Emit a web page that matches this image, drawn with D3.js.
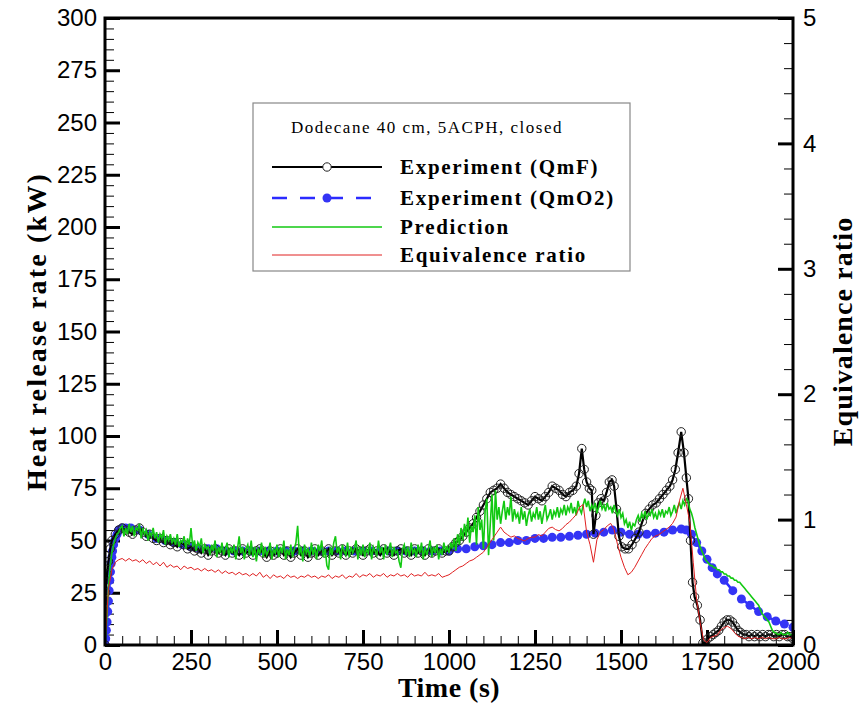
<!DOCTYPE html>
<html><head><meta charset="utf-8">
<script src="https://cdn.jsdelivr.net/npm/d3@7"></script>
<style>body{margin:0;background:#fff}svg{display:block}</style>
</head><body>
<svg id="chart" width="861" height="704"></svg>
<script>
// ---------- axis ticks ----------
const timeTicks = [0,250,500,750,1000,1250,1500,1750,2000];
const hrrTicks = [0,25,50,75,100,125,150,175,200,225,250,275,300];
const phiTicks = [0,1,2,3,4,5];

// ---------- series ----------
const legendTitle = "Dodecane 40 cm, 5ACPH, closed";
const seriesNames = ["Experiment (QmF)","Experiment (QmO2)","Prediction","Equivalence ratio"];

// Experiment (QmF): [time s, kW]
const qmf = [[0,0],[2,25],[6,34],[10,40],[15,46],[20,50],[30,53],[40,55],[50,56],[60,55],[70,54],[80,53],[90,55],[100,56],[110,54],[120,52],[130,53],[140,51],[150,50],[160,51],[170,49],[180,50],[190,48],[200,49],[210,47],[220,49],[230,48],[240,46],[250,47],
[260,45],[270,46],[280,44],[290,46],[300,43],[310,45],[320,46],[330,44],[340,45],[350,43],[360,46],[370,44],[380,45],[390,43],[400,46],[410,44],[420,45],[430,43],[440,45],[450,46],[460,44],[470,42],[480,45],[490,43],[500,44],[510,46],[520,43],[530,45],[540,42],[550,44],[560,46],[570,43],[580,45],[590,42],[600,44],[610,46],[620,43],[630,45],[640,44],[650,46],[660,43],[670,45],[680,44],[690,46],[700,43],[710,45],[720,44],[730,46],[740,45],[750,43],[760,45],[770,46],[780,44],[790,45],[800,43],[810,46],[820,44],[830,45],[840,43],[850,45],[860,46],[870,44],[880,45],[890,43],[900,46],[910,44],[920,45],[930,43],[940,46],[950,44],[960,45],[970,46],[980,44],[990,45],
[1000,45],[1010,47],[1020,49],[1030,50],[1040,52],[1050,54],[1060,56],[1070,58],[1080,61],[1090,64],[1100,67],[1110,70],[1120,73],[1130,74],[1140,75],[1150,77],[1160,75],[1170,73],[1180,72],[1190,71],[1200,70],[1210,69],[1220,68],[1230,67],[1240,69],[1250,71],[1260,70],[1270,69],[1280,71],[1290,73],[1300,76],[1310,75],[1320,74],[1330,72],[1340,71],[1350,73],[1360,74],[1370,76],[1378,82],[1386,94],[1393,84],[1400,78],[1408,75],[1415,74],[1420,53],[1427,62],[1434,68],[1442,70],[1450,69],[1458,73],[1466,78],[1474,79],[1480,76],[1487,65],[1494,52],[1502,47],[1512,46],[1522,46],[1532,48],[1542,51],[1552,54],[1562,59],[1572,63],[1582,65],[1592,67],[1602,68],[1612,70],[1622,72],[1632,74],[1642,76],[1650,79],[1658,84],[1666,92],[1675,102],[1683,92],[1690,80],[1696,70],[1702,50],[1708,30],[1714,23],[1722,19],[1730,12],[1738,1],
[1745,1],[1752,3],[1760,4],[1768,5],[1776,6],[1784,7],[1792,9],[1800,11],[1808,12],[1816,12],[1824,11],[1832,9],[1840,7],[1848,6],[1856,5],[1864,5],[1872,4],[1880,5],[1888,4],[1896,5],[1904,4],[1912,5],[1920,4],[1928,5],[1936,5],[1944,4],[1952,5],[1960,4],[1968,5],[1976,5],[1984,4],[1992,4],[2000,3]];

// Experiment (QmO2): [time s, kW]
const qmo2 = [[0,0],[2,3],[4,7],[6,11],[8,16],[10,21],[12,26],[14,31],[16,35],[18,39],[20,42],[22,45],[25,48],[30,51],[35,53],[40,55],[50,56],[60,56],[75,56],[100,55],[125,53],[150,51],[175,50],[200,49],[225,48],[250,47],[275,46],[300,46],[325,46],[350,45],[375,45],[400,45],[425,45],[450,45],[475,45],[500,45],[525,45],[550,45],[575,45],[600,45],[625,45],[650,45],[675,45],[700,45],[725,45],[750,45],[775,45],[800,45],[825,45],[850,45],[875,45],[900,45],[925,45],[950,45],[975,45],[1000,45],[1025,46],[1050,46],[1075,47],[1100,47.5],[1125,48],[1150,49],[1175,49],[1200,50],[1225,50],[1250,51],[1275,51],[1300,51.5],[1325,51.5],[1350,52],[1375,52.5],[1400,53],[1425,53.5],[1450,54],[1475,55],[1500,54],[1525,53],[1550,53],[1575,53],[1600,53.5],[1625,54],[1650,55],[1675,55.5],[1690,55],[1705,53],[1720,49],[1735,45],[1750,41],[1765,37],[1780,34],[1800,31],[1825,26],[1850,22],[1875,19],[1900,16],[1925,13.5],[1950,11.5],[1975,10],[2000,8.5]];

// Prediction (kW), sampled every 5 s from 0 to 2000 s
const predStep = 5;
const prediction = [
0,12,28,38,44,48,51,53,54,56,
57,52,56,53,58,54,57,52,56,55,
58,51,56,53,55,50,54,52,56,51,
54,49,53,51,55,48,52,50,53,49,
51,48,53,47,50,49,52,46,51,48,
56,47,50,45,49,47,51,44,48,46,
47,43,48,45,50,42,47,44,49,43,
46,49,42,47,44,48,41,46,52,44,
47,41,46,48,43,50,42,47,40,46,
44,49,42,47,43,45,49,41,46,44,
48,42,47,44,50,41,46,43,48,42,
46,49,57,43,47,40,48,44,46,42,
49,43,47,41,48,45,50,42,46,38,
36,47,43,49,52,44,47,41,48,45,
43,49,42,47,44,46,50,41,47,43,
48,42,46,44,49,41,47,45,43,50,
44,47,41,48,43,46,49,42,47,44,
45,40,37,46,48,43,47,42,49,44,
46,42,48,44,49,41,47,43,46,50,
42,47,44,48,41,46,43,49,45,47,
44,49,46,51,45,53,48,56,50,58,
52,61,49,57,54,62,48,66,55,60,
46,64,70,43,58,72,50,74,60,66,
58,64,69,60,66,62,71,59,65,61,
63,58,66,60,64,57,62,65,59,63,
61,66,60,64,58,63,67,60,62,65,
60,64,62,66,61,65,63,67,62,66,
64,68,63,66,62,69,65,63,67,70,
66,69,64,67,65,68,63,66,69,65,
67,64,68,65,66,63,67,64,62,65,
61,63,58,60,56,59,55,58,57,60,
62,59,63,61,64,60,63,62,65,61,
63,60,64,62,65,61,64,63,66,62,
64,67,63,66,68,65,69,67,70,69,
65,63,60,56,53,50,47,45,43,41,
40,39,38,38,37,37,36,36,35,35,
34,34,33,33,32,32,31,31,30,30,
29,28,27,26,25,24,23,22,21,20,
19,17,15,14,13,12,11,9,7,6,
6,5,5,6,5,5,5,6,5,5,
5];

// Equivalence ratio, sampled every 10 s from 0 to 2000 s
const phiStep = 10;
const equivRatio = [
0.00,0.45,0.60,0.66,0.68,0.69,0.67,0.69,0.67,0.68,
0.66,0.68,0.65,0.67,0.64,0.66,0.63,0.66,0.62,0.64,
0.62,0.63,0.60,0.63,0.61,0.62,0.60,0.61,0.59,0.61,
0.59,0.60,0.58,0.60,0.57,0.59,0.57,0.58,0.56,0.58,
0.56,0.57,0.55,0.57,0.55,0.58,0.54,0.56,0.53,0.56,
0.54,0.55,0.53,0.56,0.54,0.55,0.53,0.55,0.54,0.56,
0.54,0.55,0.53,0.55,0.54,0.56,0.53,0.55,0.54,0.56,
0.53,0.55,0.54,0.57,0.54,0.56,0.55,0.57,0.54,0.56,
0.55,0.57,0.54,0.56,0.55,0.57,0.55,0.56,0.54,0.57,
0.55,0.56,0.55,0.58,0.55,0.56,0.55,0.57,0.54,0.55,
0.56,0.58,0.60,0.62,0.63,0.65,0.67,0.68,0.70,0.72,
0.74,0.78,0.82,0.86,0.90,0.94,0.90,0.88,0.86,0.87,
0.85,0.84,0.83,0.85,0.86,0.86,0.88,0.87,0.90,0.93,
0.94,0.92,0.91,0.93,0.96,0.98,1.01,1.04,1.10,1.12,
0.90,0.80,0.66,0.84,0.90,0.92,0.95,0.97,0.92,0.80,
0.70,0.62,0.56,0.58,0.62,0.67,0.72,0.77,0.81,0.85,
0.87,0.88,0.90,0.92,0.94,0.97,1.02,1.15,1.25,1.12,
0.98,0.66,0.36,0.18,0.04,0.02,0.06,0.07,0.08,0.12,
0.14,0.15,0.13,0.10,0.07,0.06,0.05,0.06,0.05,0.06,
0.05,0.06,0.05,0.06,0.05,0.05,0.06,0.05,0.05,0.06,
0.05];

// ---------- layout ----------
const L = 105, R = 793, T = 18, B = 645;
const svg = d3.select("#chart");
const x = d3.scaleLinear().domain([0,2000]).range([L,R]);
const y = d3.scaleLinear().domain([0,300]).range([B,T]);
const y2 = d3.scaleLinear().domain([0,5]).range([B,T]);

const tickFont = "'Liberation Sans', Arial, sans-serif";
const serif = "'Liberation Serif', 'Times New Roman', serif";

// minor ticks
const minorX = d3.range(0, 2001, 50).filter(v => v % 250 !== 0);
const minorY = d3.range(0, 301, 5).filter(v => v % 25 !== 0);
const minorY2 = d3.range(0, 5.001, 0.2).map(v => +v.toFixed(1)).filter(v => Math.abs(v - Math.round(v)) > 1e-6);

function styleAxis(g, w){
  g.select(".domain").remove();
  g.selectAll(".tick line").attr("stroke","#000").attr("stroke-width",w);
}
// bottom
svg.append("g").attr("transform",`translate(0,${B})`)
  .call(d3.axisBottom(x).tickValues(minorX).tickSize(-9).tickFormat(""))
  .call(g=>styleAxis(g,1));
svg.append("g").attr("transform",`translate(0,${B})`)
  .call(d3.axisBottom(x).tickValues(timeTicks).tickSize(-15).tickPadding(8).tickFormat(d3.format("d")))
  .call(g=>styleAxis(g,3))
  .call(g=>g.selectAll("text").attr("font-family",tickFont).attr("font-size",24).attr("fill","#000"));
// left
svg.append("g").attr("transform",`translate(${L},0)`)
  .call(d3.axisLeft(y).tickValues(minorY).tickSize(-9).tickFormat(""))
  .call(g=>styleAxis(g,1));
svg.append("g").attr("transform",`translate(${L},0)`)
  .call(d3.axisLeft(y).tickValues(hrrTicks).tickSize(-15).tickPadding(8).tickFormat(d3.format("d")))
  .call(g=>styleAxis(g,3))
  .call(g=>g.selectAll("text").attr("font-family",tickFont).attr("font-size",24).attr("fill","#000"));
// right
svg.append("g").attr("transform",`translate(${R},0)`)
  .call(d3.axisRight(y2).tickValues(minorY2).tickSize(-9).tickFormat(""))
  .call(g=>styleAxis(g,1));
svg.append("g").attr("transform",`translate(${R},0)`)
  .call(d3.axisRight(y2).tickValues(phiTicks).tickSize(-15).tickPadding(10).tickFormat(d3.format("d")))
  .call(g=>styleAxis(g,3))
  .call(g=>g.selectAll("text").attr("font-family",tickFont).attr("font-size",24).attr("fill","#000"));

// clip
svg.append("clipPath").attr("id","clip").append("rect").attr("x",L).attr("y",T).attr("width",R-L).attr("height",B-T);
const plot = svg.append("g").attr("clip-path","url(#clip)");

const lineXY = d3.line().x(d=>x(d[0])).y(d=>y(d[1]));
// blue QmO2
plot.append("path").datum(qmo2).attr("d",lineXY).attr("fill","none")
  .attr("stroke","#2b2bff").attr("stroke-width",2.5).attr("stroke-dasharray","15,13");
plot.selectAll("circle.o2").data(qmo2).join("circle").attr("class","o2")
  .attr("cx",d=>x(d[0])).attr("cy",d=>y(d[1])).attr("r",4.5).attr("fill","#3434f5");
// black QmF
plot.append("path").datum(qmf).attr("d",lineXY).attr("fill","none")
  .attr("stroke","#000").attr("stroke-width",2.2);
plot.selectAll("circle.mf").data(qmf).join("circle").attr("class","mf")
  .attr("cx",d=>x(d[0])).attr("cy",d=>y(d[1])).attr("r",4.2)
  .attr("fill","none").attr("stroke","#222").attr("stroke-width",1);
// green prediction
plot.append("path").datum(prediction)
  .attr("d", d3.line().x((d,i)=>x(i*predStep)).y(d=>y(d)))
  .attr("fill","none").attr("stroke","#12c912").attr("stroke-width",1.6);
// red equivalence ratio
plot.append("path").datum(equivRatio)
  .attr("d", d3.line().x((d,i)=>x(i*phiStep)).y(d=>y2(d)))
  .attr("fill","none").attr("stroke","#e02020").attr("stroke-width",1);

// frame
svg.append("rect").attr("x",L).attr("y",T).attr("width",R-L).attr("height",B-T)
  .attr("fill","none").attr("stroke","#000").attr("stroke-width",3);

// axis titles
svg.append("text").attr("x",(L+R)/2).attr("y",697).attr("text-anchor","middle")
  .attr("font-family",serif).attr("font-weight","bold").attr("font-size",28)
  .attr("letter-spacing","0.5px").text("Time (s)");
svg.append("text").attr("transform",`translate(46,${(T+B)/2}) rotate(-90)`).attr("text-anchor","middle")
  .attr("font-family",serif).attr("font-weight","bold").attr("font-size",28)
  .attr("letter-spacing","2.2px").text("Heat release rate (kW)");
svg.append("text").attr("transform",`translate(852,${(T+B)/2}) rotate(-90)`).attr("text-anchor","middle")
  .attr("font-family",serif).attr("font-weight","bold").attr("font-size",28)
  .attr("letter-spacing","1.1px").text("Equivalence ratio");

// legend
const lg = svg.append("g");
lg.append("rect").attr("x",253).attr("y",103).attr("width",377).attr("height",168)
  .attr("fill","#fff").attr("stroke","#888").attr("stroke-width",1.2);
lg.append("text").attr("x",291).attr("y",133).attr("font-family",serif).attr("font-size",17)
  .attr("letter-spacing","1.5px").text(legendTitle);
const rows = [167,198,227,255];
const lx0 = 272, lx1 = 382, lxm = 327;
lg.append("line").attr("x1",lx0).attr("x2",lx1).attr("y1",rows[0]).attr("y2",rows[0]).attr("stroke","#000").attr("stroke-width",2.2);
lg.append("circle").attr("cx",lxm).attr("cy",rows[0]).attr("r",4.2).attr("fill","#fff").attr("stroke","#222");
lg.append("line").attr("x1",lx0).attr("x2",lx1).attr("y1",rows[1]).attr("y2",rows[1]).attr("stroke","#2b2bff").attr("stroke-width",2.5).attr("stroke-dasharray","15,13");
lg.append("circle").attr("cx",lxm).attr("cy",rows[1]).attr("r",4.5).attr("fill","#3434f5");
lg.append("line").attr("x1",lx0).attr("x2",lx1).attr("y1",rows[2]).attr("y2",rows[2]).attr("stroke","#12c912").attr("stroke-width",1.6);
lg.append("line").attr("x1",lx0).attr("x2",lx1).attr("y1",rows[3]).attr("y2",rows[3]).attr("stroke","#e02020").attr("stroke-width",1);
seriesNames.forEach((s,i)=>{
  lg.append("text").attr("x",400).attr("y",rows[i]+7).attr("font-family",serif)
    .attr("font-weight","bold").attr("font-size",21).attr("letter-spacing","1.7px").text(s);
});
</script>
</body></html>
